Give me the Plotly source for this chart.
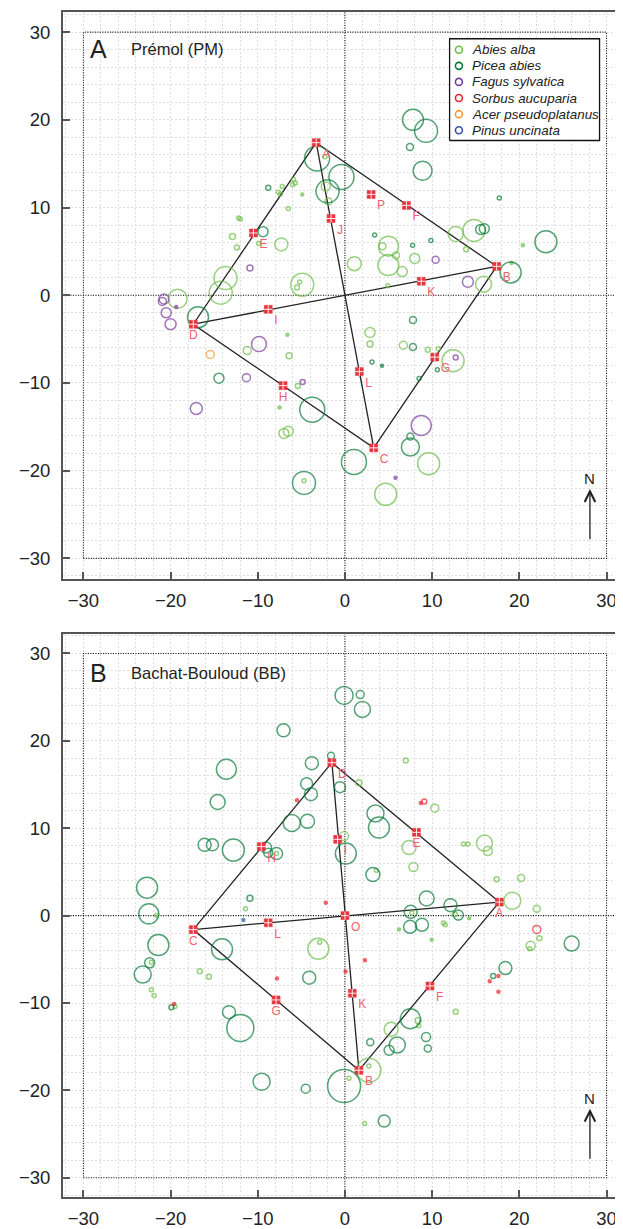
import plotly.graph_objects as go

# ---------------- colours per species ----------------
species = ["Abies alba", "Picea abies", "Fagus sylvatica", "Sorbus aucuparia",
           "Acer pseudoplatanus", "Pinus uncinata"]
colors = ["#6cbd4a", "#0b7a3a", "#7a3c9e", "#e8242e", "#f29a38", "#3352a8"]

# ---------------- Panel A : Prémol (PM) ----------------
pm_abies_x = [-2.3, -2.2, -1.9, -7.2, -5.9, -5.7, -6.0, -7.65, -7.4, -4.9, -6.5, -12.2, -12.0,
              -9.9, -12.9, -12.4, -7.3, -13.7, -14.25, -4.9, -5.2, -5.5, -19.2, -17.45, -6.6,
              -11.2, -6.4, -5.4, -7.5, -7.0, -6.5, -4.7, 2.87, 2.87, 6.7, 9.5, 10.7, 12.4, 9.6,
              4.67, 1.07, 4.3, 5.0, 4.97, 5.85, 6.57, 8.0, 4.9, 12.7, 14.8, 13.9, 20.4, 19.1, 15.9]
pm_abies_y = [15.8, 12.4, 10.7, 12.4, 13.2, 12.8, 12.6, 11.75, 11.55, 11.5, 9.9, 8.8, 8.7,
              5.9, 6.7, 5.45, 5.8, 1.96, 0.3, 1.2, 1.5, 0.9, -0.4, -3.3, -4.5,
              -6.3, -6.9, -10.35, -12.8, -15.75, -15.5, -21.15, -4.24, -5.57, -5.7, -6.2, -6.1, -7.47, -19.2,
              -22.7, 3.6, 5.6, 5.6, 3.44, 4.54, 2.7, 4.2, 1.1, 7.0, 7.4, 5.26, 5.7, 3.67, 1.27]
pm_abies_d = [4, 9, 7, 4, 4, 4, 4, 4, 4, 3, 4, 4, 4,
              4, 6, 5, 13, 23, 23, 23, 4, 5, 19, 5, 3,
              8, 6, 5, 3, 10, 10, 4, 10, 6, 8, 5, 4, 22, 22,
              22, 14, 7, 20, 21, 7, 10, 10, 4, 15, 22, 5, 3, 3, 16]

pm_picea_x = [-3.2, -0.4, -2.0, -8.8, -9.4, -16.85, -14.45, -3.75, -4.7, 7.8, 7.8, 3.1, 4.25,
              8.5, 10.6, 7.5, 7.5, 1.03, 7.8, 9.3, 7.45, 8.9, 17.7, 3.4, 7.76, 9.86, 15.56,
              15.98, 23.05, 19.0]
pm_picea_y = [15.6, 13.5, 11.85, 12.25, 7.25, -2.5, -9.45, -13.05, -21.4, -2.83, -5.9, -7.6, -8.04,
              -9.5, -8.5, -16.1, -17.3, -19.0, 20.0, 18.75, 16.9, 14.2, 11.1, 6.86, 5.7, 6.25, 7.5,
              7.58, 6.1, 2.6]
pm_picea_d = [25, 25, 23, 5, 10, 21, 10, 25, 23, 7, 7, 4, 3,
              4, 4, 7, 18, 25, 21, 23, 7, 19, 4, 4, 4, 4, 10,
              10, 22, 21]

pm_fagus_x = [-10.9, -20.75, -20.95, -20.5, -20.0, -19.35, -9.86, -11.3, -4.85, -17.05, 10.4,
              14.1, 12.7, 8.75, 5.8]
pm_fagus_y = [3.1, -0.43, -0.7, -2.0, -3.3, -1.35, -5.57, -9.4, -9.9, -12.9, 4.05,
              1.54, -7.1, -14.85, -20.8]
pm_fagus_d = [6, 10, 8, 10, 11, 3, 15, 8, 5, 12, 7, 11, 5, 20, 3]

pm_acer_x = [-15.45]
pm_acer_y = [-6.75]
pm_acer_d = [8]

# plot markers (red squares) of panel A
pm_pt_labels = ["A", "B", "C", "D", "E", "F", "G", "H", "I", "J", "K", "L", "P"]
pm_pt_x = [-3.3, 17.4, 3.3, -17.4, -10.5, 7.05, 10.3, -7.1, -8.8, -1.6, 8.75, 1.65, 3.0]
pm_pt_y = [17.4, 3.3, -17.4, -3.3, 7.1, 10.25, -7.05, -10.3, -1.6, 8.75, 1.6, -8.7, 11.5]

# ---------------- Panel B : Bachat-Bouloud (BB) ----------------
bb_abies_x = [-0.1, -7.85, -21.6, -11.4, 6.97, 1.6, 10.3, 7.35, 13.6, 14.1, 16.0, 16.4, 7.85,
              3.6, 17.4, 20.2, 19.2, 22.0, 12.6, 14.25, 7.66, 11.3, 11.5, 6.2, 9.94, 22.3, 21.3,
              21.2, 12.7, 8.4, 8.46, 5.3, 2.74, 2.74, 0.46, 2.25, -22.2, -22.2, -21.9, -16.65,
              -15.6, -3.05, -2.9, -19.5]
bb_abies_y = [9.1, 7.1, 0.0, 0.8, 17.75, 15.2, 12.3, 7.8, 8.2, 8.2, 8.3, 7.4, 5.57,
              5.2, 4.17, 4.3, 1.7, 0.8, 0.17, -0.3, 0.29, -0.85, -1.05, -1.6, -2.76, -2.6, -3.45,
              -3.8, -11.0, -12.0, -12.6, -13.0, -17.7, -17.2, -18.6, -23.8, -5.35, -8.47, -9.15, -6.37,
              -7.0, -3.8, -3.06, -10.4]
bb_abies_d = [9, 4, 4, 4, 5, 6, 8, 14, 4, 4, 16, 9, 9,
              4, 5, 7, 17, 7, 5, 3, 4, 4, 4, 3, 3, 5, 9,
              4, 5, 6, 4, 14, 24, 4, 4, 4, 4, 4, 4, 5,
              5, 21, 4, 4]

bb_picea_x = [-0.1, 1.75, 2.0, -7.05, -1.6, -3.8, -13.6, -0.57, -4.4, -3.9, -14.6, -6.1, -4.3,
              -16.1, -15.2, -12.8, -9.06, -8.8, -7.85, 0.1, -22.7, -22.5, -10.9, 3.5, 3.9, 3.2,
              9.37, 12.1, 13.0, 7.54, 7.47, 8.83, 26.0, 18.4, 17.0, 7.5, 9.3, 9.5, 2.9, 6.0, 5.06,
              -0.1, 4.5, -21.4, -22.4, -23.2, -14.1, -4.1, -19.9, -13.3, -12.0, -9.56, -4.5]
bb_picea_y = [25.2, 25.3, 23.6, 21.2, 18.3, 17.45, 16.75, 14.7, 15.1, 13.9, 13.0, 10.6, 10.8,
              8.1, 8.1, 7.5, 7.8, 7.2, 7.1, 7.1, 3.2, 0.2, 2.0, 11.7, 10.07, 4.7,
              1.96, 1.2, 0.06, 0.44, -1.28, -1.05, -3.2, -6.0, -6.9, -11.8, -13.9, -15.2, -14.5, -14.8,
              -15.4, -19.5, -23.5, -3.37, -5.4, -6.75, -3.86, -7.1, -10.5, -11.05, -12.85, -19.0, -19.8]
bb_picea_d = [18, 8, 16, 13, 7, 13, 20, 11, 12, 13, 15, 17, 14,
              13, 12, 22, 11, 9, 12, 21, 21, 20, 6, 17, 21, 14,
              15, 13, 10, 13, 13, 13, 15, 13, 5, 20, 9, 7, 7, 16,
              10, 33, 12, 21, 10, 17, 21, 13, 5, 13, 27, 17, 9]

bb_sorbus_x = [9.1, 22.0, -5.5, -2.2, 8.7, 2.3, 0.07, 17.6, 16.6, 17.6, -7.8, -19.6]
bb_sorbus_y = [13.07, -1.58, 13.2, 1.46, 12.9, -5.1, -6.4, -6.9, -7.5, -8.7, -7.2, -10.1]
bb_sorbus_d = [5, 8, 3, 3, 3, 3, 3, 3, 3, 3, 3, 3]

bb_pinus_x = [-11.65]
bb_pinus_y = [-0.5]
bb_pinus_d = [3]

bb_pt_labels = ["A", "B", "C", "D", "E", "F", "G", "H", "I", "K", "L", "O"]
bb_pt_x = [17.7, 1.6, -17.4, -1.5, 8.2, 9.75, -7.9, -9.6, -0.84, 0.84, -8.8, 0.0]
bb_pt_y = [1.55, -17.7, -1.6, 17.5, 9.53, -8.05, -9.65, 7.9, 8.73, -8.88, -0.82, 0.0]

# legend rows (panel A)
legend_row_y = [28.0, 26.16, 24.33, 22.49, 20.65, 18.82]

XR = [-32.34, 31.66]
YR_A = [-32.3, 32.3]
YR_B = [-32.2, 32.2]
FONT = "Liberation Sans, Arial, sans-serif"
DOT = "1px,1.5px"

fig = go.Figure()


def add_line(x, y, xa, ya, color="#111111", width=1.1, dash=DOT, fill=None, fillcolor=None):
    fig.add_trace(go.Scatter(x=x, y=y, mode="lines", xaxis=xa, yaxis=ya, showlegend=False,
                             hoverinfo="skip", fill=fill, fillcolor=fillcolor,
                             line=dict(color=color, width=width, dash=dash)))


def add_circles(x, y, d, color, xa, ya):
    symbols = ["circle" if s <= 3 else "circle-open" for s in d]
    fig.add_trace(go.Scatter(
        x=x, y=y, mode="markers", xaxis=xa, yaxis=ya, showlegend=False, hoverinfo="skip",
        marker=dict(size=d, symbol=symbols, color=color, line=dict(color=color, width=1.5))))


def add_frame(px, py, labels, positions, xa, ya):
    ia, ib, ic, idd = 0, 1, 2, 3
    lx = [px[ia], px[ib], px[ic], px[idd], px[ia], None, px[ia], px[ic], None, px[ib], px[idd]]
    ly = [py[ia], py[ib], py[ic], py[idd], py[ia], None, py[ia], py[ic], None, py[ib], py[idd]]
    add_line(lx, ly, xa, ya, color="#222222", width=1.3, dash="solid")
    return (px, py, labels, positions, xa, ya)


def add_points(px, py, labels, positions, xa, ya):
    fig.add_trace(go.Scatter(
        x=px, y=py, mode="markers+text", xaxis=xa, yaxis=ya, showlegend=False, hoverinfo="skip",
        text=labels, textposition=positions,
        textfont=dict(family=FONT, size=12, color="#f2606e"),
        marker=dict(symbol="square", size=8, color="#e8343c", line=dict(color="#e8343c", width=0.5))))
    fig.add_trace(go.Scatter(
        x=px, y=py, mode="markers", xaxis=xa, yaxis=ya, showlegend=False, hoverinfo="skip",
        marker=dict(symbol="cross-thin-open", size=6, color="white", line=dict(color="white", width=0.9))))


panels = [("x", "y", YR_A), ("x2", "y2", YR_B)]
# dotted reference lines: 60 m square and the two zero lines
for xa, ya, yr in panels:
    add_line([-30, 30, 30, -30, -30], [-30, -30, 30, 30, -30], xa, ya)
    add_line([0, 0], yr, xa, ya)
    add_line(XR, [0, 0], xa, ya)

# panel A
pa = add_frame(pm_pt_x, pm_pt_y, pm_pt_labels,
               ["bottom right", "bottom right", "bottom right", "bottom center", "bottom right",
                "bottom right", "bottom right", "bottom center", "bottom right", "bottom right",
                "bottom right", "bottom right", "bottom right"], "x", "y")
add_circles(pm_abies_x, pm_abies_y, pm_abies_d, colors[0], "x", "y")
add_circles(pm_picea_x, pm_picea_y, pm_picea_d, colors[1], "x", "y")
add_circles(pm_fagus_x, pm_fagus_y, pm_fagus_d, colors[2], "x", "y")
add_circles(pm_acer_x, pm_acer_y, pm_acer_d, colors[4], "x", "y")
add_points(*pa)

# panel B
pb = add_frame(bb_pt_x, bb_pt_y, bb_pt_labels,
               ["bottom center", "bottom right", "bottom center", "bottom right", "bottom center",
                "bottom right", "bottom center", "bottom right", "bottom right", "bottom right",
                "bottom right", "bottom right"], "x2", "y2")
add_circles(bb_abies_x, bb_abies_y, bb_abies_d, colors[0], "x2", "y2")
add_circles(bb_picea_x, bb_picea_y, bb_picea_d, colors[1], "x2", "y2")
add_circles(bb_sorbus_x, bb_sorbus_y, bb_sorbus_d, colors[3], "x2", "y2")
add_circles(bb_pinus_x, bb_pinus_y, bb_pinus_d, colors[5], "x2", "y2")
add_points(*pb)

# legend (panel A), drawn manually: white box, markers, italic names
add_line([12.0, 29.2, 29.2, 12.0, 12.0], [17.65, 17.65, 29.25, 29.25, 17.65], "x", "y",
         color="#111111", width=1.3, dash="solid", fill="toself", fillcolor="white")
annotations = []
for name, col, ry in zip(species, colors, legend_row_y):
    fig.add_trace(go.Scatter(x=[13.07], y=[ry], mode="markers", xaxis="x", yaxis="y",
                             showlegend=False, hoverinfo="skip",
                             marker=dict(symbol="circle-open", size=7, color=col,
                                         line=dict(color=col, width=1.6))))
    annotations.append(dict(x=14.3, y=ry, xref="x", yref="y", text=name, showarrow=False,
                            xanchor="left", yanchor="middle",
                            font=dict(family=FONT, size=13.4, color="#222222", style="italic")))

panel_titles = [("A", "Prémol (PM)", "x", "y", 28.1), ("B", "Bachat-Bouloud (BB)", "x2", "y2", 27.8)]
for letter, title, xa, ya, ty in panel_titles:
    annotations.append(dict(x=-28.3, y=ty, xref=xa, yref=ya, text=letter, showarrow=False,
                            xanchor="center", yanchor="middle",
                            font=dict(family=FONT, size=25, color="#222222")))
    annotations.append(dict(x=-24.8, y=ty, xref=xa, yref=ya, text=title, showarrow=False,
                            xanchor="left", yanchor="middle",
                            font=dict(family=FONT, size=16.5, color="#222222")))
    # north arrow
    annotations.append(dict(x=28.1, y=-22.1, ax=28.1, ay=-28.0, xref=xa, yref=ya,
                            axref=xa, ayref=ya, text="", showarrow=True, arrowhead=5,
                            arrowsize=1.6, arrowwidth=1.3, arrowcolor="#222222"))
    annotations.append(dict(x=28.1, y=-20.9, xref=xa, yref=ya, text="N", showarrow=False,
                            xanchor="center", yanchor="middle",
                            font=dict(family=FONT, size=15, color="#222222")))

grid = dict(showgrid=True, gridcolor="#dfdfdf", griddash="2px,2px", gridwidth=1)
axis_common = dict(
    tickmode="array", tickvals=[-30, -20, -10, 0, 10, 20, 30],
    ticks="inside", ticklen=7, tickwidth=1.5, tickcolor="#555555",
    showline=True, linecolor="#555555", linewidth=2, mirror=True,
    zeroline=False, tickfont=dict(family=FONT, size=18.5, color="#222222"),
    minor=dict(tickmode="linear", tick0=0, dtick=2, ticks="", **grid),
    **grid)

# the page body has an 8 px margin, so the figure is 8 px smaller than the window
fig.update_layout(
    width=615, height=1221,
    margin=dict(l=55, r=0, t=4, b=31),
    paper_bgcolor="white", plot_bgcolor="white",
    showlegend=False,
    xaxis=dict(domain=[0, 1], range=XR, anchor="y", ticklabelstandoff=4, **axis_common),
    yaxis=dict(domain=[0.5219, 1], range=YR_A, anchor="x", ticklabelstandoff=7, **axis_common),
    xaxis2=dict(domain=[0, 1], range=XR, anchor="y2", ticklabelstandoff=4, **axis_common),
    yaxis2=dict(domain=[0, 0.4749], range=YR_B, anchor="x2", ticklabelstandoff=7, **axis_common),
    annotations=annotations,
)

fig.write_html("out.html")
